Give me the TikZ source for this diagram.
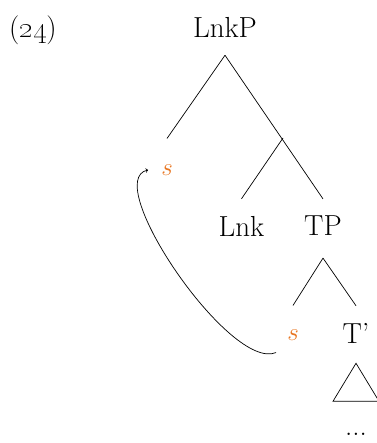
\documentclass[tikz,border=0pt]{standalone}
\definecolor{sorange}{RGB}{232,118,34}
\tikzset{
  lbl/.style={inner sep=0pt, font=\fontsize{29}{34}\selectfont},
  trace/.style={lbl, text=sorange},
  branch/.style={line width=0.7pt},
  move/.style={line width=0.7pt, ->, >=to},
}
\begin{document}
\begin{tikzpicture}[x=1pt,y=1pt]
\useasboundingbox (0,0) rectangle (376,-443);
\node[lbl] (num) at (33,-30) {(\oldstylenums{24})};
\node[lbl] (LnkP) at (225,-27) {LnkP};
\coordinate (mid) at (283,-138);
\node[trace] (s1) at (167,-170) {$s$};
\node[lbl] (Lnk) at (241.5,-226) {Lnk};
\node[lbl] (TP) at (323,-226) {TP};
\node[trace] (s2) at (293,-335) {$s$};
\node[lbl] (Tbar) at (356,-333) {T’};
\node[lbl] (dots) at (356,-434) {...};
% branches
\draw[branch] ([yshift=-18]LnkP.south) -- ([yshift=26]s1.north);
\draw[branch] ([yshift=-18]LnkP.south) -- ([yshift=17]TP.north);
\draw[branch] (mid) -- ([yshift=17]Lnk.north);
\draw[branch] ([yshift=-22]TP.south) -- ([yshift=24]s2.north);
\draw[branch] ([yshift=-22]TP.south) -- ([yshift=17]Tbar.north);
% triangle
\draw[branch] ([yshift=-20]Tbar.south) -- ++(-23,-38) -- ++(46,0) -- cycle;
% movement arrow
\draw[move] ([shift={(-11,-12)}]s2.south west) .. controls (230,-372) and (100,-180) .. ([xshift=-13]s1.west);
\end{tikzpicture}
\end{document}
